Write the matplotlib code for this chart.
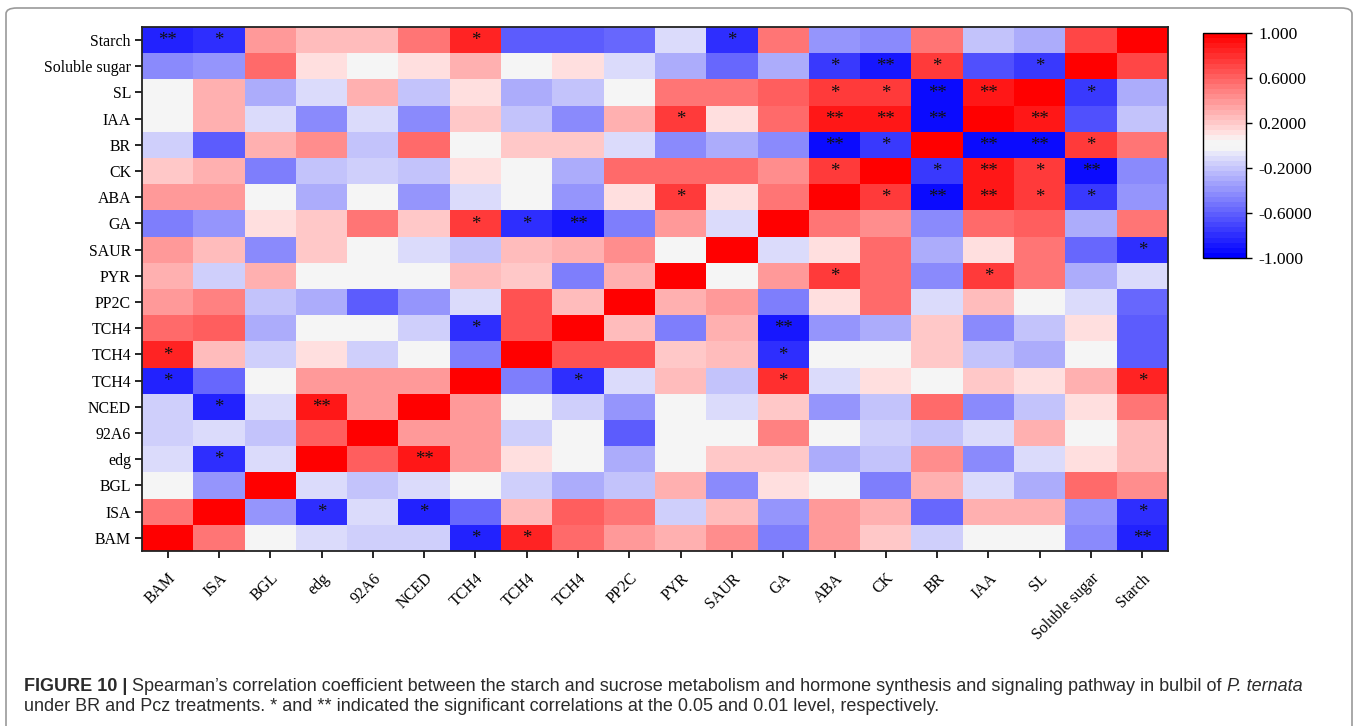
import numpy as np
import matplotlib
matplotlib.use("Agg")
import matplotlib.pyplot as plt
from matplotlib.colors import LinearSegmentedColormap, Normalize
from matplotlib.patches import FancyBboxPatch

# variables along the x axis (left to right); y axis is the same list reversed
col_labels = ["BAM", "ISA", "BGL", "edg", "92A6", "NCED", "TCH4", "TCH4", "TCH4", "PP2C",
              "PYR", "SAUR", "GA", "ABA", "CK", "BR", "IAA", "SL", "Soluble sugar", "Starch"]
row_labels = col_labels[::-1]

# Spearman coefficients, rows from top (Starch) to bottom (BAM)
corr = [
    [-0.85, -0.80, 0.40, 0.25, 0.25, 0.50, 0.85, -0.60, -0.60, -0.55, -0.10, -0.80, 0.50, -0.40, -0.45, 0.50, -0.20, -0.30, 0.70, 1.00],
    [-0.45, -0.40, 0.55, 0.10, 0.00, 0.10, 0.30, 0.00, 0.12, -0.10, -0.30, -0.58, -0.30, -0.75, -0.90, 0.75, -0.65, -0.75, 1.00, 0.70],
    [0.00, 0.30, -0.30, -0.10, 0.30, -0.20, 0.10, -0.30, -0.20, 0.00, 0.50, 0.50, 0.63, 0.75, 0.75, -0.95, 0.90, 1.00, -0.75, -0.30],
    [0.00, 0.30, -0.10, -0.45, -0.10, -0.45, 0.20, -0.20, -0.45, 0.30, 0.75, 0.10, 0.57, 0.90, 0.90, -0.95, 1.00, 0.90, -0.65, -0.20],
    [-0.15, -0.60, 0.30, 0.45, -0.20, 0.55, 0.00, 0.20, 0.20, -0.10, -0.45, -0.30, -0.45, -0.92, -0.75, 1.00, -0.95, -0.95, 0.75, 0.50],
    [0.20, 0.30, -0.50, -0.20, -0.15, -0.20, 0.10, 0.00, -0.30, 0.55, 0.55, 0.55, 0.45, 0.75, 1.00, -0.75, 0.90, 0.75, -0.92, -0.45],
    [0.40, 0.40, 0.00, -0.30, 0.00, -0.40, -0.10, 0.00, -0.40, 0.10, 0.75, 0.10, 0.50, 1.00, 0.75, -0.92, 0.90, 0.75, -0.75, -0.40],
    [-0.50, -0.38, 0.10, 0.20, 0.50, 0.20, 0.75, -0.80, -0.90, -0.50, 0.40, -0.10, 1.00, 0.50, 0.42, -0.45, 0.55, 0.63, -0.30, 0.50],
    [0.40, 0.25, -0.45, 0.20, 0.00, -0.10, -0.20, 0.25, 0.30, 0.45, 0.00, 1.00, -0.10, 0.10, 0.55, -0.30, 0.10, 0.50, -0.58, -0.80],
    [0.30, -0.15, 0.30, 0.00, 0.00, 0.00, 0.25, 0.20, -0.50, 0.30, 1.00, 0.00, 0.40, 0.75, 0.55, -0.45, 0.75, 0.50, -0.30, -0.10],
    [0.40, 0.48, -0.20, -0.30, -0.60, -0.38, -0.10, 0.68, 0.25, 1.00, 0.30, 0.40, -0.50, 0.10, 0.55, -0.10, 0.25, 0.00, -0.10, -0.55],
    [0.55, 0.62, -0.30, 0.00, 0.00, -0.15, -0.80, 0.68, 1.00, 0.25, -0.50, 0.30, -0.90, -0.38, -0.30, 0.20, -0.45, -0.20, 0.10, -0.60],
    [0.82, 0.25, -0.15, 0.10, -0.15, 0.00, -0.50, 1.00, 0.68, 0.68, 0.20, 0.25, -0.80, 0.00, 0.00, 0.20, -0.20, -0.30, 0.00, -0.60],
    [-0.82, -0.58, 0.00, 0.40, 0.40, 0.40, 1.00, -0.50, -0.80, -0.10, 0.25, -0.20, 0.80, -0.10, 0.10, 0.00, 0.20, 0.10, 0.30, 0.82],
    [-0.15, -0.82, -0.10, 0.88, 0.40, 1.00, 0.40, 0.00, -0.15, -0.38, 0.00, -0.10, 0.20, -0.38, -0.20, 0.55, -0.45, -0.20, 0.10, 0.50],
    [-0.15, -0.10, -0.20, 0.62, 1.00, 0.40, 0.40, -0.15, 0.00, -0.60, 0.00, 0.00, 0.48, 0.00, -0.15, -0.20, -0.10, 0.30, 0.00, 0.25],
    [-0.10, -0.80, -0.10, 1.00, 0.62, 0.88, 0.40, 0.10, 0.00, -0.30, 0.00, 0.20, 0.20, -0.30, -0.20, 0.45, -0.45, -0.10, 0.10, 0.25],
    [0.00, -0.38, 1.00, -0.10, -0.20, -0.10, 0.00, -0.15, -0.30, -0.20, 0.30, -0.45, 0.10, 0.00, -0.50, 0.30, -0.10, -0.30, 0.55, 0.45],
    [0.50, 1.00, -0.38, -0.80, -0.10, -0.82, -0.58, 0.25, 0.62, 0.50, -0.15, 0.25, -0.38, 0.40, 0.30, -0.58, 0.30, 0.30, -0.38, -0.80],
    [1.00, 0.50, 0.00, -0.10, -0.15, -0.15, -0.82, 0.82, 0.55, 0.40, 0.30, 0.45, -0.50, 0.40, 0.20, -0.15, 0.00, 0.00, -0.45, -0.85],
]

# significance marks: (row from top, column, mark)
sig_marks = [
    (0, 0, "**"), (0, 1, "*"), (0, 6, "*"), (0, 11, "*"),
    (1, 13, "*"), (1, 14, "**"), (1, 15, "*"), (1, 17, "*"),
    (2, 13, "*"), (2, 14, "*"), (2, 15, "**"), (2, 16, "**"), (2, 18, "*"),
    (3, 10, "*"), (3, 13, "**"), (3, 14, "**"), (3, 15, "**"), (3, 17, "**"),
    (4, 13, "**"), (4, 14, "*"), (4, 16, "**"), (4, 17, "**"), (4, 18, "*"),
    (5, 13, "*"), (5, 15, "*"), (5, 16, "**"), (5, 17, "*"), (5, 18, "**"),
    (6, 10, "*"), (6, 14, "*"), (6, 15, "**"), (6, 16, "**"), (6, 17, "*"), (6, 18, "*"),
    (7, 6, "*"), (7, 7, "*"), (7, 8, "**"),
    (8, 19, "*"),
    (9, 13, "*"), (9, 16, "*"),
    (11, 6, "*"), (11, 12, "**"),
    (12, 0, "*"), (12, 12, "*"),
    (13, 0, "*"), (13, 8, "*"), (13, 12, "*"), (13, 19, "*"),
    (14, 1, "*"), (14, 3, "**"),
    (16, 1, "*"), (16, 5, "**"),
    (18, 3, "*"), (18, 5, "*"), (18, 19, "*"),
    (19, 6, "*"), (19, 7, "*"), (19, 19, "**"),
]

cbar_ticks = [1.0, 0.6, 0.2, -0.2, -0.6, -1.0]
cbar_ticklabels = ["1.000", "0.6000", "0.2000", "-0.2000", "-0.6000", "-1.000"]

serif = "Liberation Serif"
sans = "Liberation Sans"

cmap = LinearSegmentedColormap.from_list(
    "blue_white_red",
    [(0.0, "#0000ff"), (0.46, "#e4e4fb"), (0.49, "#f5f5f5"), (0.52, "#f5f5f5"),
     (0.55, "#ffe4e4"), (1.0, "#ff0000")],
    N=44,
)
norm = Normalize(vmin=-1, vmax=1)

W, H = 1358, 726
fig = plt.figure(figsize=(W / 100, H / 100), dpi=100)

# grey rounded frame around the figure panel
frame = FancyBboxPatch((6 / W, -0.05), 1346 / W, 1.05 - 8 / H,
                       boxstyle="round,pad=0,rounding_size=0.008",
                       transform=fig.transFigure, fill=False,
                       edgecolor="#9a9a9a", linewidth=1.2)
fig.patches.append(frame)

ax = fig.add_axes([142 / W, 1 - 551 / H, 1026 / W, 524 / H])
data = np.array(corr)
im = ax.imshow(data, cmap=cmap, norm=norm, aspect="auto", interpolation="nearest")

for r, c, mark in sig_marks:
    ax.text(c, r + 0.02, mark, ha="center", va="center", fontsize=13.5,
            family=serif, color="#111111")

ax.set_xticks(np.arange(len(col_labels)))
ax.set_yticks(np.arange(len(row_labels)))
ax.set_xticklabels(col_labels, rotation=45, ha="right", va="top",
                   rotation_mode="anchor", family=serif, fontsize=11.4)
ax.set_yticklabels(row_labels, family=serif, fontsize=11.4)
ax.tick_params(axis="x", length=5, width=1.2, pad=9)
ax.tick_params(axis="y", length=5, width=1.2, pad=3)
for s in ax.spines.values():
    s.set_linewidth(1.3)
    s.set_color("#222222")

cax = fig.add_axes([1203 / W, 1 - 258 / H, 43 / W, 225 / H])
cb = fig.colorbar(im, cax=cax, ticks=cbar_ticks)
cb.ax.set_yticklabels(cbar_ticklabels, family=serif, fontsize=12.6)
cb.ax.tick_params(length=4, width=1, pad=5)
cb.outline.set_linewidth(1.0)

# caption below the chart, written piece by piece to mix font styles
fig.canvas.draw()
renderer = fig.canvas.get_renderer()
cap_size = 13.0
cap_color = "#2b2b2b"
line1 = [
    ("FIGURE 10 | ", "bold", "normal"),
    ("Spearman\u2019s correlation coefficient between the starch and sucrose metabolism and hormone "
     "synthesis and signaling pathway in bulbil of ", "normal", "normal"),
    ("P. ternata", "normal", "italic"),
]
x = 24 / W
for txt, weight, style in line1:
    t = fig.text(x, 1 - 691 / H, txt, family=sans, fontsize=cap_size, weight=weight,
                 style=style, color=cap_color, va="baseline", ha="left")
    bb = t.get_window_extent(renderer=renderer)
    x += bb.width / fig.bbox.width
fig.text(24 / W, 1 - 711 / H,
         "under BR and Pcz treatments. * and ** indicated the significant correlations at the "
         "0.05 and 0.01 level, respectively.",
         family=sans, fontsize=cap_size, color=cap_color, va="baseline", ha="left")

fig.savefig("out.png", dpi=100)
